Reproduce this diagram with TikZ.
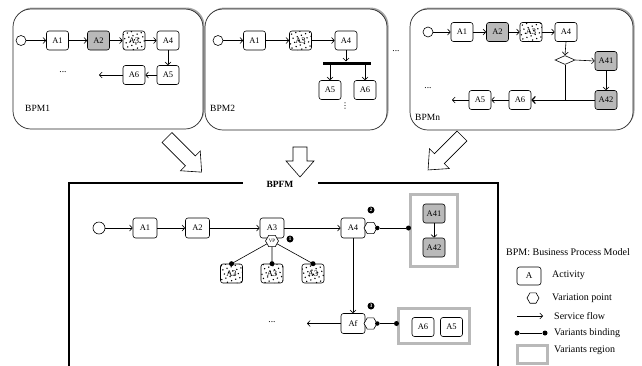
\documentclass[tikz,border=0pt]{standalone}
\usepackage{fontspec}
\setmainfont{Liberation Serif}
\newfontfamily\symfont{DejaVu Sans}
\usetikzlibrary{arrows.meta,shapes.geometric,patterns.meta,shadows}

% hollow block arrow: #1 tail centre, #2 direction angle, #3 length
\newcommand{\bigflowarrow}[3]{%
  \draw[line width=0.6pt, fill=white, shift={#1}, rotate=#2]
    (0,-7) -- ({#3-16},-7) -- ({#3-16},-14) -- (#3,0) -- ({#3-16},14)
    -- ({#3-16},7) -- (0,7) -- cycle;}

\begin{document}
\begin{tikzpicture}[x=1pt,y=-1pt,
  act/.style={draw, rounded corners=2.5pt, minimum width=22pt, minimum height=19pt,
    inner sep=0pt, font=\fontsize{8.5}{9}\selectfont, fill=white, line width=0.6pt},
  actg/.style={act, fill=gray!55},
  actd/.style={act, fill=none, preaction={fill=white},
    pattern={Dots[distance=4.4pt, radius=0.8pt, angle=20]}},
  bact/.style={act, minimum width=24pt, minimum height=20pt},
  flow/.style={-{Straight Barb[length=2.8pt,width=6pt]}, line width=0.6pt},
  startev/.style={draw, circle, minimum size=10pt, inner sep=0pt, line width=0.6pt, fill=white},
  vp/.style={draw, regular polygon, regular polygon sides=6, minimum size=13pt,
    inner sep=0pt, fill=white, line width=0.6pt, font=\fontsize{5}{5}\selectfont},
  bind/.style={circle, fill=black, inner sep=0pt, minimum size=5pt},
  region/.style={draw=gray!55, line width=3pt},
  badge/.style={circle, fill=black, text=white, inner sep=0pt, minimum size=7pt,
    font=\fontsize{5}{5}\selectfont\bfseries},
  lbl/.style={font=\fontsize{9.5}{11}\selectfont, inner sep=0pt, anchor=west},
  leg/.style={font=\fontsize{10}{12}\selectfont, inner sep=0pt, anchor=west},
  bpm/.style={draw=black!85, rounded corners=18pt, fill=white, line width=0.7pt,
    drop shadow={shadow xshift=1.5pt, shadow yshift=1.5pt, fill=gray!70, opacity=1}},
  frame/.style={line width=1.1pt}
]
\useasboundingbox (0,0) rectangle (642,365);

% ---------------- BPM1 ----------------
\node[bpm, minimum width=190pt, minimum height=120pt] (bpmA) at (108,69) {};
\node[startev] (s1) at (21,40.5) {};
\node[act]  (a11) at (57.5,40.5) {A1};
\node[actg] (a12) at (98.5,40.5) {A2};
\node[actd] (a13) at (134,40.5) {A3};
\node[act]  (a14) at (168,40.5) {A4};
\node[act]  (a15) at (168,75) {A5};
\node[act]  (a16) at (134,75) {A6};
\coordinate (e1) at (99,75);
\node[lbl, anchor=center] (d1) at (63,72) {...};
\node[lbl] (n1) at (25,108) {BPM1};
\draw[flow] (s1) -- (a11);
\draw[flow] (a11) -- (a12);
\draw[flow] (a12) -- (a13);
\draw[flow] (a13) -- (a14);
\draw[flow] (a14) -- (a15);
\draw[flow] (a15) -- (a16);
\draw[flow] (a16) -- (e1);

% ---------------- BPM2 ----------------
\node[bpm, minimum width=182pt, minimum height=121pt] (bpmB) at (296,69.5) {};
\node[startev] (s2) at (218,40.5) {};
\node[act]  (a21) at (254.5,40.5) {A1};
\node[actd] (a23) at (300.5,40.5) {A3};
\node[act]  (a24) at (346,40.5) {A4};
\node[fill=black, minimum width=48pt, minimum height=3pt, inner sep=0pt] (bar) at (347,63) {};
\node[act]  (a25) at (330,90) {A5};
\node[act]  (a26) at (365,90) {A6};
\node[font=\symfont\fontsize{8}{9}\selectfont, inner sep=0pt] (d2) at (345,106) {⋮};
\node[lbl] (n2) at (210,108) {BPM2};
\draw[flow] (s2) -- (a21);
\draw[flow] (a21) -- (a23);
\draw[flow] (a23) -- (a24);
\draw[flow] (a24.south) -- (a24.south |- bar.north);
\draw[flow] (bar.south -| a25) -- (a25.north);
\draw[flow] (bar.south -| a26) -- (a26.north);
\node[lbl, anchor=center] (d3) at (396,51) {...};

% ---------------- BPMn ----------------
\node[bpm, minimum width=223pt, minimum height=121pt] (bpmC) at (521.5,69.5) {};
\node[startev] (s3) at (428,32) {};
\node[act]  (c1) at (462,32) {A1};
\node[actg] (c2) at (497.5,32) {A2};
\node[actd] (c3) at (531,32) {A3};
\node[act]  (c4) at (566,32) {A4};
\node[draw, diamond, minimum width=20pt, minimum height=9pt, inner sep=0pt,
  line width=0.6pt, fill=white] (dm) at (565,60) {};
\node[actg] (c41) at (606,61) {A41};
\node[actg] (c42) at (606,100) {A42};
\node[act]  (c6) at (520,100) {A6};
\node[act]  (c5) at (480,100) {A5};
\coordinate (e3) at (452,100);
\node[lbl, anchor=center] (d4) at (428,88) {...};
\node[lbl] (n3) at (415,117) {BPMn};
\draw[flow] (s3) -- (c1);
\draw[flow] (c1) -- (c2);
\draw[flow] (c2) -- (c3);
\draw[flow] (c3) -- (c4);
\draw[flow] (c4.south) -- (dm.north);
\draw[flow] (dm.east) -- (c41.west);
\draw[flow] (c41) -- (c42);
\draw[line width=0.6pt] (dm.south) -- (dm.south |- c6);
\draw[flow, -{Straight Barb[length=3.2pt,width=7pt,line width=1.2pt]}] (c42.west) -- (c6.east);
\draw[flow] (c6) -- (c5);
\draw[flow] (c5) -- (e3);

% ---------------- transfer arrows ----------------
\bigflowarrow{(167,137.5)}{-45}{49}
\bigflowarrow{(300,147)}{-90}{30}
\bigflowarrow{(462,136)}{-135}{48}

% ---------------- BPFM ----------------
\node[font=\fontsize{9.5}{11}\selectfont\bfseries, inner sep=0pt] (bpfm) at (280,184) {BPFM};
\draw[frame] (69,366) -- (69,183) -- (243,183);
\draw[frame] (318,183) -- (498,183) -- (498,366);

\node[startev, minimum size=12pt] (bs) at (99,228) {};
\node[bact] (b1) at (145,228) {A1};
\node[bact] (b2) at (197.5,228) {A2};
\node[bact] (b3) at (272,228) {A3};
\node[bact] (b4) at (353,228) {A4};
\node[bact] (bf) at (353,323.5) {Af};
\coordinate (e4) at (307,323.5);
\node[lbl, anchor=center] (d5) at (272,322) {...};
\draw[flow] (bs) -- (b1);
\draw[flow] (b1) -- (b2);
\draw[flow] (b2) -- (b3);
\draw[flow] (b3) -- (b4);
\draw[flow] (b4) -- (bf);
\draw[flow] (bf) -- (e4);

% variation point of A3 and its variants
\node[actd] (v1) at (231.5,273.5) {A3};
\node[actd] (v2) at (272,273.5) {A3};
\node[actd] (v3) at (313,273.5) {A3};
\node[vp] (vp3) at (272,241) {VP};
\node[badge] (m1) at (290,239) {1};
\foreach \v in {v1,v2,v3} {
  \draw[line width=0.6pt] (vp3) -- (\v.north);
  \node[bind] at (\v.north) {};
}

% variation point of A4 and its variants region
\node[region, minimum width=47pt, minimum height=72pt] (r1) at (433.5,230) {};
\node[actg] (r41) at (434,213.5) {A41};
\node[actg] (r42) at (434,247.5) {A42};
\draw[flow] (r41) -- (r42);
\node[vp] (vp4) at (370.5,228) {};
\node[badge] (m2) at (371,210) {2};
\node[bind, minimum size=4.5pt] (h4) at (vp4.east) {};
\node[bind] (k4) at (r1.west |- vp4) {};
\draw[line width=0.6pt] (h4) -- (k4);

% variation point of Af and its variants region
\node[region, minimum width=71pt, minimum height=35pt] (r2) at (433.5,325.5) {};
\node[act] (r6) at (423,327) {A6};
\node[act] (r5) at (451.5,327) {A5};
\node[vp] (vpf) at (370.5,323.5) {};
\node[badge] (m3) at (371,306) {3};
\node[bind, minimum size=4.5pt] (hf) at (vpf.east) {};
\node[bind] (kf) at (r2.west |- vpf) {};
\draw[line width=0.6pt] (hf) -- (kf);

% ---------------- legend ----------------
\node[leg] (lg0) at (506,252) {BPM: Business Process Model};
\node[act, minimum width=24pt, minimum height=18pt, font=\fontsize{9}{10}\selectfont] (lga) at (529,276) {A};
\node[leg] (lgt1) at (552,275) {Activity};
\node[vp, minimum size=12pt] (lgv) at (533,298) {};
\node[leg] (lgt2) at (552,298) {Variation point};
\coordinate (lgf1) at (517,316);
\coordinate (lgf2) at (543,316);
\draw[flow] (lgf1) -- (lgf2);
\node[leg] (lgt3) at (554,316) {Service flow};
\node[bind] (lgb1) at (517,333) {};
\node[bind] (lgb2) at (545,333) {};
\draw[line width=0.6pt] (lgb1) -- (lgb2);
\node[leg] (lgt4) at (554,333) {Variants binding};
\node[region, minimum width=30pt, minimum height=18pt] (lgr) at (532,354) {};
\node[leg] (lgt5) at (554,350) {Variants region};
\end{tikzpicture}
\end{document}
